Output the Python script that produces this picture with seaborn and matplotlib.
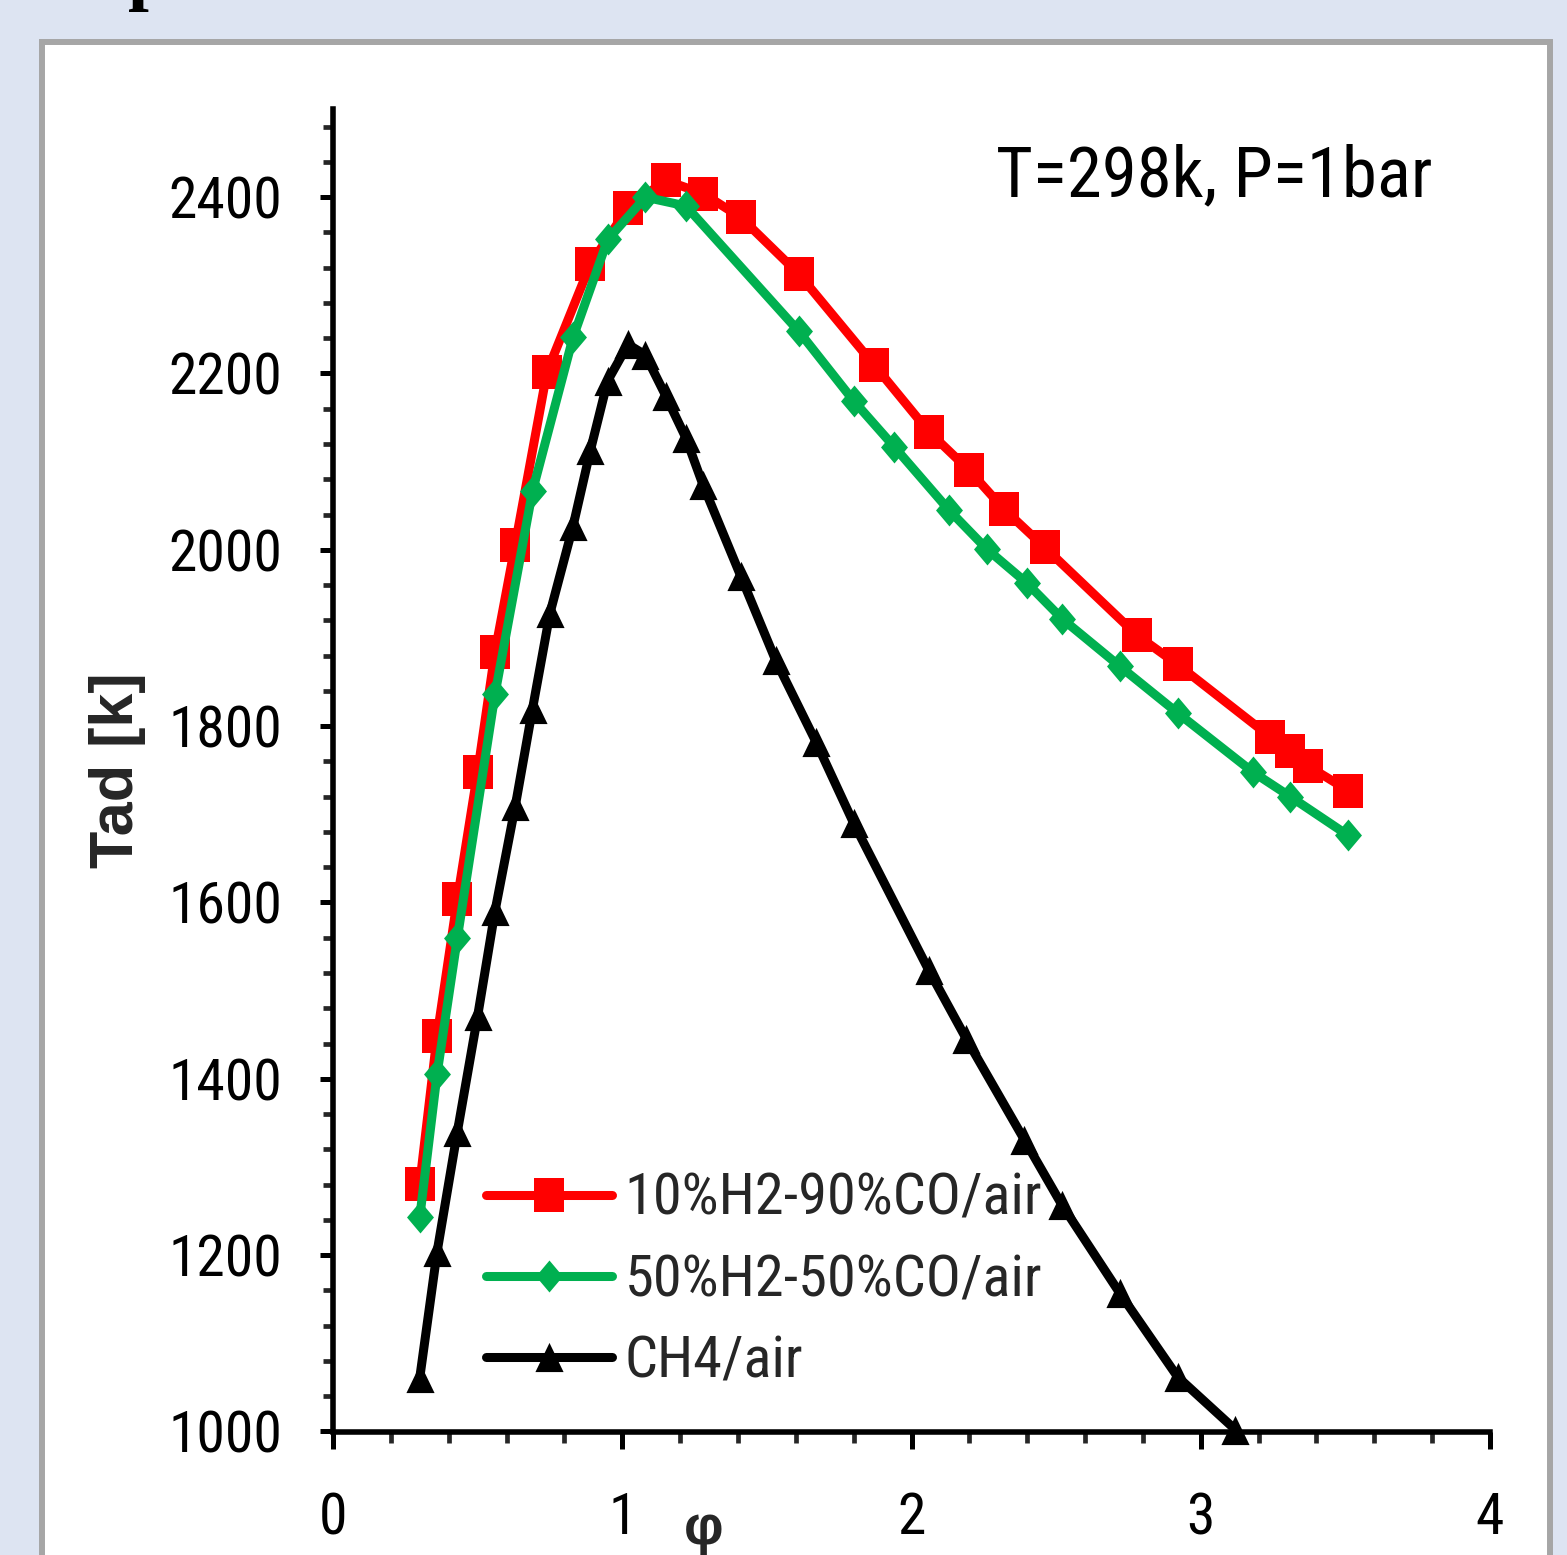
import numpy as np
import pandas as pd
import matplotlib
matplotlib.use("Agg")
import matplotlib.pyplot as plt
from matplotlib.path import Path
from matplotlib.patches import Rectangle
from matplotlib.ticker import MultipleLocator
import seaborn as sns

# ---------------- data ----------------
phi_h2co_10 = [0.30, 0.36, 0.43, 0.50, 0.56, 0.63, 0.74, 0.89, 1.02, 1.15, 1.28, 1.41,
               1.61, 1.87, 2.06, 2.20, 2.32, 2.46, 2.78, 2.92, 3.24, 3.31, 3.37, 3.51]
tad_h2co_10 = [1281, 1449, 1604, 1748, 1884, 2006, 2202, 2324, 2388, 2419, 2404, 2377,
               2313, 2210, 2134, 2090, 2046, 2003, 1903, 1870, 1788, 1772, 1755, 1727]

phi_h2co_50 = [0.30, 0.36, 0.43, 0.56, 0.69, 0.83, 0.95, 1.08, 1.22, 1.61, 1.80, 1.94,
               2.13, 2.26, 2.40, 2.52, 2.72, 2.92, 3.18, 3.31, 3.51]
tad_h2co_50 = [1243, 1406, 1560, 1836, 2067, 2241, 2352, 2400, 2390, 2248, 2169, 2117,
               2045, 2001, 1962, 1922, 1868, 1815, 1748, 1720, 1676]

phi_ch4 = [0.30, 0.36, 0.43, 0.50, 0.56, 0.63, 0.69, 0.75, 0.83, 0.89, 0.95, 1.02, 1.08,
           1.15, 1.22, 1.28, 1.41, 1.53, 1.67, 1.80, 2.06, 2.19, 2.39, 2.52, 2.72, 2.92, 3.12]
tad_ch4 = [1061, 1204, 1340, 1471, 1590, 1709, 1820, 1928, 2027, 2113, 2192, 2233, 2221,
           2175, 2127, 2073, 1970, 1875, 1782, 1690, 1523, 1445, 1331, 1257, 1157, 1062, 1002]

series_labels = ["10%H2-90%CO/air", "50%H2-50%CO/air", "CH4/air"]
x_ticks = [0, 1, 2, 3, 4]
y_ticks = [1000, 1200, 1400, 1600, 1800, 2000, 2200, 2400]
annotation = "T=298k, P=1bar"

# ---------------- style ----------------
sns.set_theme(style="white")
plt.rcParams["font.family"] = ["Roboto Condensed", "Open Sans Condensed", "Noto Sans",
                               "DejaVu Sans"]
plt.rcParams["font.stretch"] = "condensed"

W, H = 1567, 1555
fig = plt.figure(figsize=(W / 100, H / 100), dpi=100)
fig.patch.set_facecolor("#DDE4F2")

# white chart panel with grey border
panel = Rectangle((42 / W, -0.02), (1550 - 42) / W, 1 - 42 / H + 0.02,
                  transform=fig.transFigure, facecolor="white",
                  edgecolor="#A6A6A6", linewidth=4.3, zorder=0)
fig.patches.append(panel)

# cut-off caption glyph at the very top
fig.text(128 / W, 1 + 4 / H, "p", family=["Liberation Serif", "DejaVu Serif"],
         fontweight="bold", fontsize=54, fontstretch="normal",
         ha="left", va="baseline", color="black")

ax_left, ax_right, ax_top, ax_bottom = 333, 1490, 109, 1431.5
ax = fig.add_axes([ax_left / W, 1 - ax_bottom / H,
                   (ax_right - ax_left) / W, (ax_bottom - ax_top) / H])
ax.set_zorder(5)
ax.patch.set_alpha(0)

# custom (slightly tall) markers
sq = Path([(-14.5, -17), (14.5, -17), (14.5, 17), (-14.5, 17), (-14.5, -17)],
          [Path.MOVETO, Path.LINETO, Path.LINETO, Path.LINETO, Path.CLOSEPOLY])
dm = Path([(0, 16), (13.5, 0), (0, -16), (-13.5, 0), (0, 16)],
          [Path.MOVETO, Path.LINETO, Path.LINETO, Path.LINETO, Path.CLOSEPOLY])
tr = Path([(0, 14.5), (14, -14.5), (-14, -14.5), (0, 14.5)],
          [Path.MOVETO, Path.LINETO, Path.LINETO, Path.CLOSEPOLY])

specs = [
    (phi_h2co_10, tad_h2co_10, series_labels[0], "#FF0000", sq, 24.5),
    (phi_h2co_50, tad_h2co_50, series_labels[1], "#00B050", dm, 23.0),
    (phi_ch4, tad_ch4, series_labels[2], "#000000", tr, 21.0),
]
for i, (xs, ys, lab, col, mk, ms) in enumerate(specs):
    df = pd.DataFrame({"phi": xs, "Tad": ys})
    sns.lineplot(data=df, x="phi", y="Tad", ax=ax, color=col, linewidth=6.5,
                 marker=mk, markersize=ms, markeredgewidth=0, label=lab,
                 sort=False, estimator=None, clip_on=False, zorder=3 + i)

ax.set_xlim(0, 4)
ax.set_ylim(1000, 2500)
ax.set_xticks(x_ticks)
ax.set_yticks(y_ticks)
ax.xaxis.set_minor_locator(MultipleLocator(0.2))
ax.yaxis.set_minor_locator(MultipleLocator(40))

for s in ["top", "right"]:
    ax.spines[s].set_visible(False)
for s in ["left", "bottom"]:
    ax.spines[s].set_color("black")
    ax.spines[s].set_linewidth(4)

ax.tick_params(axis="x", which="major", direction="out", length=12, width=3.6,
               pad=31, labelsize=41.5, colors="black", bottom=True)
ax.tick_params(axis="x", which="minor", direction="out", length=8, width=3.4,
               bottom=True)
ax.tick_params(axis="y", which="major", direction="out", length=9.5, width=3.6,
               pad=27, labelsize=41.5, colors="black", left=True)
ax.tick_params(axis="y", which="minor", direction="out", length=7, width=3.4,
               left=True)

ax.set_xlabel("φ", fontsize=40, fontweight="bold", fontstretch="normal",
              family=["Liberation Sans", "DejaVu Sans"])
ax.xaxis.set_label_coords((704 - ax_left) / (ax_right - ax_left), -0.055)
ax.set_ylabel("Tad [k]", fontsize=44, fontweight="bold", fontstretch="normal",
              family=["Liberation Sans", "DejaVu Sans"])
ax.yaxis.set_label_coords((146 - ax_left) / (ax_right - ax_left), 0.5)

ax.text((996 - ax_left) / (ax_right - ax_left), (ax_bottom - 196) / (ax_bottom - ax_top),
        annotation, transform=ax.transAxes, fontsize=51, ha="left", va="baseline",
        color="black")

ax.legend(loc="upper left",
          bbox_to_anchor=((486 - ax_left) / (ax_right - ax_left),
                          (ax_bottom - 1172) / (ax_bottom - ax_top)),
          frameon=False, fontsize=42, handlelength=2.16, handletextpad=0.22,
          labelspacing=0.45, borderpad=0, borderaxespad=0, numpoints=1)

fig.savefig("out.png", dpi=100, facecolor=fig.get_facecolor())
